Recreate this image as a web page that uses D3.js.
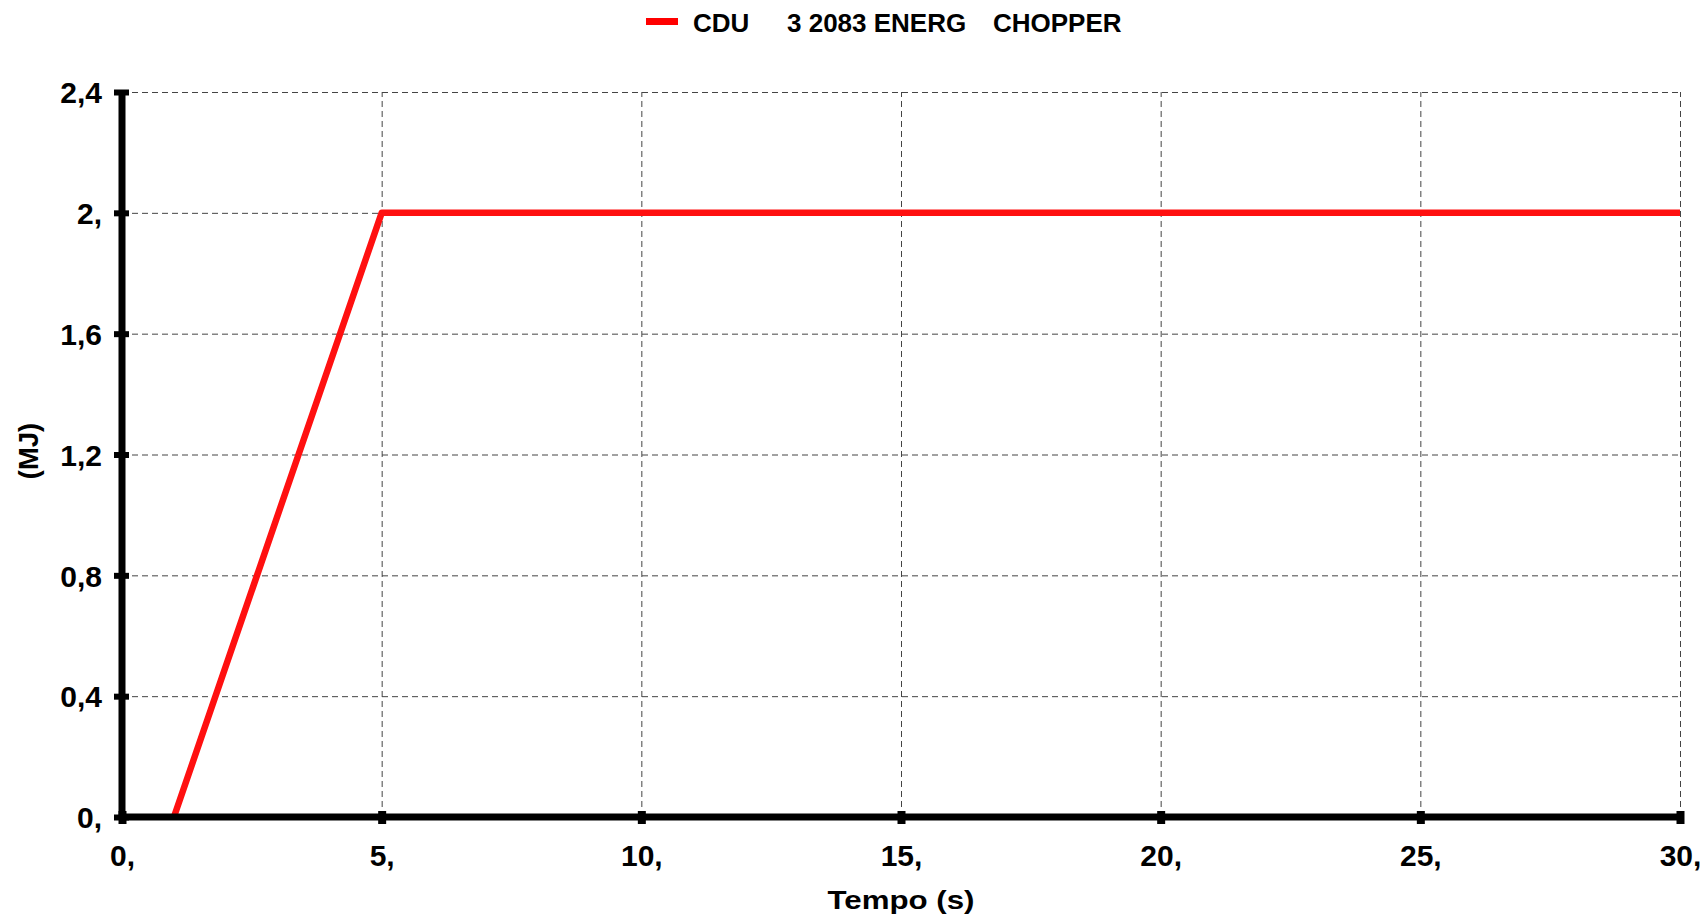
<!DOCTYPE html>
<html>
<head>
<meta charset="utf-8">
<script src="https://cdn.jsdelivr.net/npm/d3@7"></script>
<style>
    body { margin: 0; background: #fff; }
    text { font-family: "Liberation Sans", Arial, sans-serif; font-weight: bold; fill: #000; }
</style>
</head>
<body>
<div class="container"></div>
<script>
// energy of the chopper over time
const seriesName = ['CDU', '3 2083 ENERG', 'CHOPPER'];
const timeValues = [1, 5, 30];
const energyValues = [0, 2, 2];

const xTicks = [0, 5, 10, 15, 20, 25, 30];
const yTicks = [0, 0.4, 0.8, 1.2, 1.6, 2, 2.4];
const xTitle = 'Tempo (s)';
const yTitle = '(MJ)';

const width = 1704;
const height = 918;
const plotLeft = 122, plotRight = 1680, plotTop = 92, plotBottom = 817;

// 2.4 -> "2,4", 2 -> "2,"
const fmt = d => Number.isInteger(d) ? d + ',' : String(d).replace('.', ',');

function draw() {
    const svg = d3.select('.container')
        .append('svg')
        .attr('width', width)
        .attr('height', height);

    const xscale = d3.scaleLinear().domain([0, 30]).range([plotLeft, plotRight]);
    const yscale = d3.scaleLinear().domain([0, 2.4]).range([plotBottom, plotTop]);

    // grid
    svg.append('g')
        .attr('transform', `translate(0,${plotBottom})`)
        .call(d3.axisBottom(xscale).tickValues(xTicks.slice(1)).tickSize(-(plotBottom - plotTop)).tickFormat(''))
        .call(g => g.select('.domain').remove())
        .selectAll('line')
        .attr('stroke', '#444')
        .attr('stroke-dasharray', '6,4');

    svg.append('g')
        .attr('transform', `translate(${plotLeft},0)`)
        .call(d3.axisLeft(yscale).tickValues(yTicks.slice(1)).tickSize(-(plotRight - plotLeft)).tickFormat(''))
        .call(g => g.select('.domain').remove())
        .selectAll('line')
        .attr('stroke', '#444')
        .attr('stroke-dasharray', '6,4');

    // series
    const line = d3.line()
        .x((d, i) => xscale(timeValues[i]))
        .y(d => yscale(d));

    svg.append('path')
        .datum(energyValues)
        .attr('d', line)
        .attr('fill', 'none')
        .attr('stroke', '#ff1010')
        .attr('stroke-width', 6.5)
        .attr('stroke-linejoin', 'round');

    // axes
    const yAxis = svg.append('g')
        .attr('transform', `translate(${plotLeft},0)`)
        .call(d3.axisLeft(yscale).tickValues(yTicks).tickFormat(fmt).tickSize(8).tickPadding(12));
    yAxis.select('.domain').remove();
    yAxis.selectAll('.tick line')
        .attr('x1', -8).attr('x2', 7)
        .attr('stroke', '#000').attr('stroke-width', 6);
    yAxis.selectAll('.tick text')
        .attr('x', -20)
        .attr('dy', '0.36em')
        .style('font-size', '30px');

    const xAxis = svg.append('g')
        .attr('transform', `translate(0,${plotBottom})`)
        .call(d3.axisBottom(xscale).tickValues(xTicks).tickFormat(fmt).tickSize(7));
    xAxis.select('.domain').remove();
    xAxis.selectAll('.tick line')
        .attr('y1', -6).attr('y2', 7)
        .attr('stroke', '#000').attr('stroke-width', 8);
    xAxis.selectAll('.tick text')
        .attr('y', 49)
        .attr('dy', 0)
        .style('font-size', '30px');

    svg.append('line')
        .attr('x1', plotLeft).attr('x2', plotLeft)
        .attr('y1', plotTop - 2).attr('y2', plotBottom + 3)
        .attr('stroke', '#000').attr('stroke-width', 7);
    svg.append('line')
        .attr('x1', plotLeft - 3).attr('x2', plotRight + 3)
        .attr('y1', plotBottom).attr('y2', plotBottom)
        .attr('stroke', '#000').attr('stroke-width', 7);

    // titles
    svg.append('text')
        .attr('transform', 'translate(901,909) scale(1.18,1)')
        .attr('text-anchor', 'middle')
        .style('font-size', '26.5px')
        .text(xTitle);

    svg.append('text')
        .attr('transform', 'translate(28,451) rotate(-90)')
        .attr('text-anchor', 'middle')
        .attr('dominant-baseline', 'central')
        .style('font-size', '27.5px')
        .text(yTitle);

    // legend
    svg.append('line')
        .attr('x1', 646).attr('x2', 678)
        .attr('y1', 21.5).attr('y2', 21.5)
        .attr('stroke', '#ff0000').attr('stroke-width', 7);
    const legendX = [693, 787, 993];
    svg.append('text')
        .attr('y', 32)
        .style('font-size', '26px')
        .selectAll('tspan')
        .data(seriesName)
        .join('tspan')
        .attr('x', (d, i) => legendX[i])
        .text(d => d);
}

draw();
</script>
</body>
</html>
